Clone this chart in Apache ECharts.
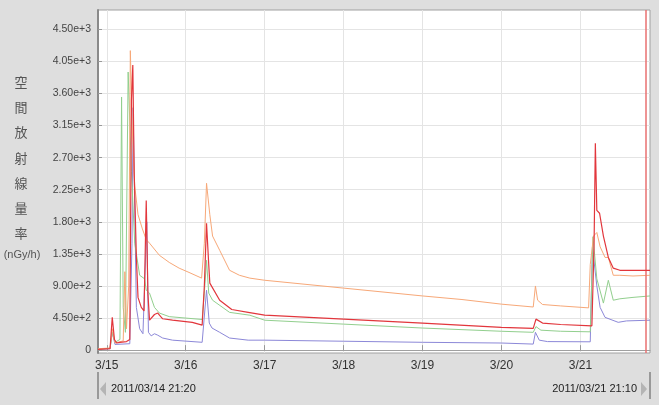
<!DOCTYPE html>
<html>
<head>
<meta charset="utf-8">
<script src="https://cdn.jsdelivr.net/npm/echarts@6/dist/echarts.min.js"></script>
<style>
html,body{margin:0;padding:0;background:#dedede;}
#c{width:659px;height:405px;}
</style>
</head>
<body>
<div id="c"></div>
<script>
const startTime = '2011-03-14 21:20';
const endTime = '2011-03-21 21:10';
const dayTicks = [15, 16, 17, 18, 19, 20, 21];
const yTicks = [0, 450, 900, 1350, 1800, 2250, 2700, 3150, 3600, 4050, 4500];
const yTitleChars = ['空', '間', '放', '射', '線', '量', '率'];
const yUnit = '(nGy/h)';
const markTime = '2011-03-21 19:45';

const orangeData = [
  ['2011-03-14 21:20', 20], ['2011-03-15 01:00', 30], ['2011-03-15 01:40', 300], ['2011-03-15 02:30', 100],
  ['2011-03-15 05:00', 130], ['2011-03-15 05:30', 1100], ['2011-03-15 06:00', 300], ['2011-03-15 06:40', 900],
  ['2011-03-15 07:10', 4200], ['2011-03-15 07:50', 3000], ['2011-03-15 08:30', 2300], ['2011-03-15 09:30', 1900],
  ['2011-03-15 10:50', 1700], ['2011-03-15 12:00', 1550], ['2011-03-15 13:00', 1500], ['2011-03-15 16:00', 1330],
  ['2011-03-15 19:00', 1230], ['2011-03-15 22:00', 1150], ['2011-03-16 01:00', 1090], ['2011-03-16 04:50', 1010],
  ['2011-03-16 05:40', 1500], ['2011-03-16 06:20', 2340], ['2011-03-16 07:20', 1900], ['2011-03-16 08:10', 1600],
  ['2011-03-16 10:20', 1400], ['2011-03-16 13:20', 1120], ['2011-03-16 16:20', 1050], ['2011-03-16 19:30', 1010],
  ['2011-03-17 00:00', 980], ['2011-03-18 00:00', 870], ['2011-03-19 00:00', 760], ['2011-03-19 12:00', 710],
  ['2011-03-20 00:00', 645], ['2011-03-20 09:40', 605], ['2011-03-20 10:20', 900], ['2011-03-20 11:00', 700],
  ['2011-03-20 12:30', 640], ['2011-03-20 18:00', 620], ['2011-03-21 02:30', 593], ['2011-03-21 03:00', 1200],
  ['2011-03-21 04:00', 1600], ['2011-03-21 05:00', 1650], ['2011-03-21 06:00', 1450], ['2011-03-21 07:30', 1300],
  ['2011-03-21 08:30', 1300], ['2011-03-21 10:00', 1050], ['2011-03-21 12:00', 1050], ['2011-03-21 16:00', 1040],
  ['2011-03-21 21:10', 1050]
];
const redData = [
  ['2011-03-14 21:20', 10], ['2011-03-15 01:00', 20], ['2011-03-15 01:40', 460], ['2011-03-15 02:20', 150],
  ['2011-03-15 03:00', 100], ['2011-03-15 04:00', 110], ['2011-03-15 06:00', 120], ['2011-03-15 07:00', 150],
  ['2011-03-15 07:30', 3500], ['2011-03-15 07:55', 4000], ['2011-03-15 08:20', 2500], ['2011-03-15 09:00', 1300],
  ['2011-03-15 09:30', 740], ['2011-03-15 10:30', 600], ['2011-03-15 11:20', 550], ['2011-03-15 12:00', 2100],
  ['2011-03-15 12:30', 800], ['2011-03-15 13:00', 420], ['2011-03-15 14:30', 500], ['2011-03-15 15:30', 520],
  ['2011-03-15 17:00', 440], ['2011-03-15 20:00', 420], ['2011-03-16 02:00', 390], ['2011-03-16 05:00', 350],
  ['2011-03-16 05:40', 900], ['2011-03-16 06:20', 1780], ['2011-03-16 07:00', 1200], ['2011-03-16 07:20', 940],
  ['2011-03-16 10:20', 700], ['2011-03-16 14:00', 570], ['2011-03-16 19:00', 530], ['2011-03-17 00:00', 490],
  ['2011-03-18 00:00', 435], ['2011-03-19 00:00', 380], ['2011-03-20 00:00', 320], ['2011-03-20 09:40', 305],
  ['2011-03-20 10:30', 435], ['2011-03-20 12:30', 380], ['2011-03-20 18:00', 360], ['2011-03-21 03:30', 341],
  ['2011-03-21 04:10', 1500], ['2011-03-21 04:33', 2900], ['2011-03-21 05:00', 1960], ['2011-03-21 05:50', 1920],
  ['2011-03-21 07:00', 1600], ['2011-03-21 08:30', 1300], ['2011-03-21 10:00', 1150], ['2011-03-21 12:00', 1120],
  ['2011-03-21 21:10', 1120]
];
const greenData = [
  ['2011-03-14 21:20', 15], ['2011-03-15 01:00', 25], ['2011-03-15 01:40', 250], ['2011-03-15 02:30', 110],
  ['2011-03-15 04:00', 150], ['2011-03-15 04:30', 3550], ['2011-03-15 05:00', 600], ['2011-03-15 05:40', 250],
  ['2011-03-15 06:30', 3900], ['2011-03-15 07:30', 2500], ['2011-03-15 08:30', 1500], ['2011-03-15 10:00', 1050],
  ['2011-03-15 11:30', 1000], ['2011-03-15 12:00', 840], ['2011-03-15 13:00', 800], ['2011-03-15 14:30', 600],
  ['2011-03-15 16:00', 520], ['2011-03-15 19:00', 470], ['2011-03-16 05:00', 430], ['2011-03-16 05:40', 800],
  ['2011-03-16 06:20', 1260], ['2011-03-16 07:00', 800], ['2011-03-16 08:10', 700], ['2011-03-16 13:20', 530],
  ['2011-03-16 19:30', 490], ['2011-03-17 00:00', 420], ['2011-03-18 00:00', 365], ['2011-03-19 00:00', 310],
  ['2011-03-20 00:00', 265], ['2011-03-20 09:40', 250], ['2011-03-20 10:30', 330], ['2011-03-20 12:00', 280],
  ['2011-03-20 18:00', 265], ['2011-03-21 03:00', 257], ['2011-03-21 03:50', 1590], ['2011-03-21 05:00', 1000],
  ['2011-03-21 07:00', 660], ['2011-03-21 08:30', 980], ['2011-03-21 10:00', 700], ['2011-03-21 12:00', 720],
  ['2011-03-21 16:00', 740], ['2011-03-21 21:10', 760]
];
const purpleData = [
  ['2011-03-14 21:20', 10], ['2011-03-15 01:00', 20], ['2011-03-15 01:40', 250], ['2011-03-15 02:30', 80],
  ['2011-03-15 07:00', 90], ['2011-03-15 07:40', 1500], ['2011-03-15 08:00', 3400], ['2011-03-15 09:00', 600],
  ['2011-03-15 10:00', 300], ['2011-03-15 11:00', 230], ['2011-03-15 12:10', 1800], ['2011-03-15 12:40', 250],
  ['2011-03-15 13:30', 200], ['2011-03-15 14:30', 230], ['2011-03-15 15:30', 210], ['2011-03-15 17:00', 170],
  ['2011-03-15 20:00', 140], ['2011-03-16 05:00', 110], ['2011-03-16 06:20', 840], ['2011-03-16 07:10', 380],
  ['2011-03-16 08:00', 310], ['2011-03-16 10:20', 250], ['2011-03-16 13:20', 170], ['2011-03-16 19:00', 140],
  ['2011-03-17 00:00', 140], ['2011-03-18 00:00', 125], ['2011-03-19 00:00', 110], ['2011-03-20 00:00', 100],
  ['2011-03-20 09:40', 85], ['2011-03-20 10:20', 250], ['2011-03-20 11:30', 140], ['2011-03-20 14:00', 120],
  ['2011-03-21 03:00', 117], ['2011-03-21 03:40', 1440], ['2011-03-21 05:00', 900], ['2011-03-21 06:00', 600],
  ['2011-03-21 07:30', 460], ['2011-03-21 11:30', 390], ['2011-03-21 14:00', 410], ['2011-03-21 21:10', 420]
];

function ts(s) {
  const m = s.match(/(\d+)-(\d+)-(\d+) (\d+):(\d+)/);
  return Date.UTC(+m[1], +m[2] - 1, +m[3], +m[4], +m[5]);
}
function toXY(arr) { return arr.map(p => [ts(p[0]), p[1]]); }

const dayValues = dayTicks.map(d => Date.UTC(2011, 2, d));
const fontFam = '"Liberation Sans", "Noto Sans CJK JP", sans-serif';

const chart = echarts.init(document.getElementById('c'), null, {renderer: 'canvas'});

function line(name, data, color, width, z) {
  return {name, type: 'line', data: toXY(data), symbol: 'none', showSymbol: false, z,
    lineStyle: {color, width}, itemStyle: {color}, animation: false};
}

const series = [
  line('purple', purpleData, '#8c88d8', 1, 2),
  line('green', greenData, '#92cf8e', 1, 3),
  line('orange', orangeData, '#f7a878', 1, 4),
  line('red', redData, '#e2363c', 1.2, 5)
];
series[3].markLine = {silent: true, symbol: 'none', label: {show: false}, animation: false,
  lineStyle: {color: '#e87070', width: 1.5, type: 'solid'}, data: [{xAxis: ts(markTime)}]};

const graphics = [];
yTitleChars.forEach((ch, i) => {
  graphics.push({type: 'text', x: 21, y: 82 + i * 25.2,
    style: {text: ch, fill: '#555', font: '13px "Noto Sans CJK JP"', align: 'center', verticalAlign: 'middle'}});
});
graphics.push({type: 'text', x: 22, y: 255, style: {text: yUnit, fill: '#555', font: '11px ' + fontFam, align: 'center', verticalAlign: 'middle'}});
graphics.push({type: 'rect', shape: {x: 97, y: 372, width: 2, height: 27}, style: {fill: '#999'}});
graphics.push({type: 'polygon', shape: {points: [[106, 382], [106, 396], [100, 389]]}, style: {fill: '#b4b4b4'}});
graphics.push({type: 'text', x: 111, y: 389, style: {text: '2011/03/14 21:20', fill: '#222', font: '11px ' + fontFam, align: 'left', verticalAlign: 'middle'}});
graphics.push({type: 'text', x: 637, y: 389, style: {text: '2011/03/21 21:10', fill: '#222', font: '11px ' + fontFam, align: 'right', verticalAlign: 'middle'}});
graphics.push({type: 'polygon', shape: {points: [[641, 382], [641, 396], [647, 389]]}, style: {fill: '#b4b4b4'}});
graphics.push({type: 'rect', shape: {x: 649, y: 372, width: 2, height: 27}, style: {fill: '#999'}});

chart.setOption({
  animation: false,
  backgroundColor: '#dedede',
  grid: {left: 98, top: 10, right: 9, bottom: 52, show: true, backgroundColor: '#ffffff', borderColor: '#a0a0a0', borderWidth: 1},
  xAxis: {
    type: 'value', min: ts(startTime), max: ts(endTime),
    axisLine: {show: true, lineStyle: {color: '#a0a0a0', width: 1}},
    axisTick: {show: true, inside: true, length: 5, customValues: dayValues, lineStyle: {color: '#999'}},
    axisLabel: {customValues: dayValues, color: '#333', fontSize: 12, fontFamily: fontFam, margin: 7,
      formatter: v => { const d = new Date(v); return (d.getUTCMonth() + 1) + '/' + d.getUTCDate(); }},
    splitLine: {show: true, lineStyle: {color: '#e4e4e4', width: 1}}
  },
  yAxis: {
    type: 'value', min: -40, max: 4770,
    axisLine: {show: true, lineStyle: {color: '#8a8a8a', width: 2}},
    axisTick: {show: true, inside: true, length: 4, customValues: yTicks, lineStyle: {color: '#999'}},
    axisLabel: {customValues: yTicks, color: '#444', fontSize: 10.5, fontFamily: fontFam, margin: 7,
      formatter: v => v === 0 ? '0' : v.toExponential(2)},
    splitLine: {show: true, lineStyle: {color: '#e4e4e4', width: 1}}
  },
  series,
  graphic: graphics
});
</script>
</body>
</html>
